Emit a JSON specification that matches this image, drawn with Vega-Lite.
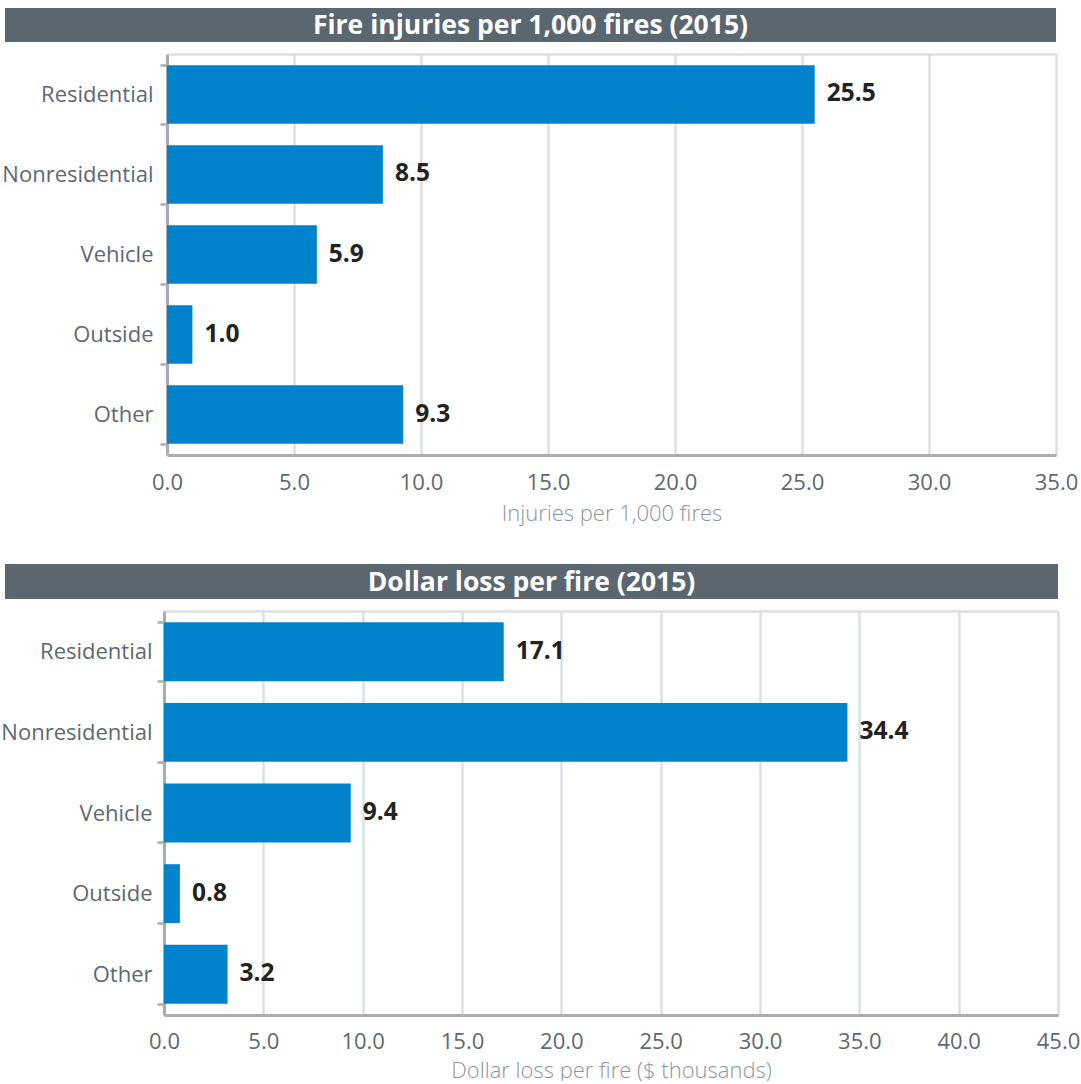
{
  "$schema": "https://vega.github.io/schema/vega-lite/v6.json",
  "padding": {"left": 0, "top": 8, "right": 0, "bottom": 0},
  "background": "white",
  "config": {
    "font": "Open Sans",
    "view": {"stroke": null},
    "concat": {"spacing": 40}
  },
  "datasets": {
    "injuries": [
      {"category": "Residential", "value": 25.5},
      {"category": "Nonresidential", "value": 8.5},
      {"category": "Vehicle", "value": 5.9},
      {"category": "Outside", "value": 1.0},
      {"category": "Other", "value": 9.3}
    ],
    "loss": [
      {"category": "Residential", "value": 17.1},
      {"category": "Nonresidential", "value": 34.4},
      {"category": "Vehicle", "value": 9.4},
      {"category": "Outside", "value": 0.8},
      {"category": "Other", "value": 3.2}
    ],
    "titles1": [{"title": "Fire injuries per 1,000 fires (2015)"}],
    "titles2": [{"title": "Dollar loss per fire (2015)"}]
  },
  "vconcat": [
    {
      "spacing": 1,
      "vconcat": [
        {
          "width": 1051,
          "height": 34,
          "data": {"name": "titles1"},
          "layer": [
            {"mark": {"type": "rect", "color": "#5b6770"}, "encoding": {}},
            {
              "mark": {"type": "text", "color": "white", "fontWeight": "bold", "fontSize": 26.5, "baseline": "middle", "align": "center", "dy": 1},
              "encoding": {"text": {"field": "title"}}
            }
          ]
        },
        {
          "width": 1051,
          "height": 401,
          "data": {"name": "injuries"},
          "encoding": {
            "y": {
              "field": "category", "type": "nominal",
              "sort": ["Residential", "Nonresidential", "Vehicle", "Outside", "Other"],
              "scale": {"paddingInner": 0.27, "paddingOuter": 0.14},
              "axis": {
                "title": null, "labelFontSize": 22, "labelColor": "#5d6872", "labelPadding": 7, "offset": -162,
                "tickBand": "extent", "tickSize": 7, "tickColor": "#a9adb1", "tickWidth": 2.5,
                "domainColor": "#a9adb1", "domainWidth": 3
              }
            },
            "x": {
              "field": "value", "type": "quantitative",
              "scale": {"domain": [0, 35], "nice": false, "range": [162, 1051]},
              "axis": {
                "title": "Injuries per 1,000 fires", "titleFontSize": 22, "titleColor": "#8b95a0", "titleFontWeight": 300, "titlePadding": 10,
                "values": [0, 5, 10, 15, 20, 25, 30, 35], "format": ".1f", "labelFlush": false,
                "labelFontSize": 22, "labelColor": "#5d6872", "labelPadding": 17,
                "ticks": false, "grid": true, "gridColor": "#dde0e3", "gridWidth": 2.5,
                "domainColor": "#a9adb1", "domainWidth": 3
              }
            }
          },
          "layer": [
            {"mark": {"type": "bar", "color": "#0083cb"}},
            {
              "mark": {"type": "text", "align": "left", "baseline": "middle", "dx": 12, "fontSize": 24.5, "fontWeight": "bold", "color": "#222222"},
              "encoding": {
                "text": {"field": "value", "type": "quantitative", "format": ".1f"},
                "x": {"field": "value", "type": "quantitative", "axis": {"orient": "top", "title": null, "labels": false, "ticks": false, "grid": false, "minExtent": 0, "maxExtent": 0, "domainColor": "#dde0e3", "domainWidth": 2.5}}
              }
            }
          ],
          "resolve": {"axis": {"x": "independent"}}
        }
      ]
    },
    {
      "spacing": 1,
      "vconcat": [
        {
          "width": 1053,
          "height": 35,
          "data": {"name": "titles2"},
          "layer": [
            {"mark": {"type": "rect", "color": "#5b6770"}, "encoding": {}},
            {
              "mark": {"type": "text", "color": "white", "fontWeight": "bold", "fontSize": 26.5, "baseline": "middle", "align": "center", "dy": 1},
              "encoding": {"text": {"field": "title"}}
            }
          ]
        },
        {
          "width": 1053,
          "height": 404,
          "data": {"name": "loss"},
          "encoding": {
            "y": {
              "field": "category", "type": "nominal",
              "sort": ["Residential", "Nonresidential", "Vehicle", "Outside", "Other"],
              "scale": {"paddingInner": 0.27, "paddingOuter": 0.14},
              "axis": {
                "title": null, "labelFontSize": 22, "labelColor": "#5d6872", "labelPadding": 5, "offset": -159,
                "tickBand": "extent", "tickSize": 7, "tickColor": "#a9adb1", "tickWidth": 2.5,
                "domainColor": "#a9adb1", "domainWidth": 3
              }
            },
            "x": {
              "field": "value", "type": "quantitative",
              "scale": {"domain": [0, 45], "nice": false, "range": [159, 1053]},
              "axis": {
                "title": "Dollar loss per fire ($ thousands)", "titleFontSize": 22, "titleColor": "#8b95a0", "titleFontWeight": 300, "titlePadding": 8,
                "values": [0, 5, 10, 15, 20, 25, 30, 35, 40, 45], "format": ".1f", "labelFlush": false,
                "labelFontSize": 22, "labelColor": "#5d6872", "labelPadding": 16,
                "ticks": false, "grid": true, "gridColor": "#dde0e3", "gridWidth": 2.5,
                "domainColor": "#a9adb1", "domainWidth": 3
              }
            }
          },
          "layer": [
            {"mark": {"type": "bar", "color": "#0083cb"}},
            {
              "mark": {"type": "text", "align": "left", "baseline": "middle", "dx": 12, "fontSize": 24.5, "fontWeight": "bold", "color": "#222222"},
              "encoding": {
                "text": {"field": "value", "type": "quantitative", "format": ".1f"},
                "x": {"field": "value", "type": "quantitative", "axis": {"orient": "top", "title": null, "labels": false, "ticks": false, "grid": false, "minExtent": 0, "maxExtent": 0, "domainColor": "#dde0e3", "domainWidth": 2.5}}
              }
            }
          ],
          "resolve": {"axis": {"x": "independent"}}
        }
      ]
    }
  ]
}
